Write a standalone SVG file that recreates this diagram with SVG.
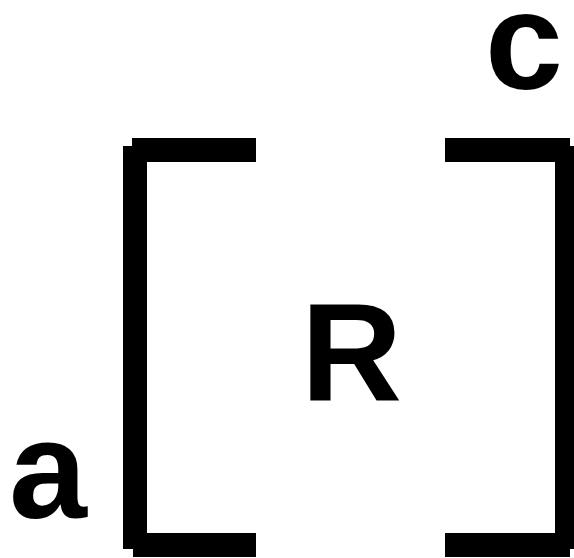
<svg xmlns="http://www.w3.org/2000/svg" width="574" height="558" viewBox="0 0 574 558">
<style>
.lbl{font-family:"Liberation Sans",Arial,sans-serif;font-weight:bold;font-size:140px;fill:#000}
.bar{fill:#000}
</style>
<rect width="574" height="558" fill="#fff"/>
<g id="bracket-left">
<rect class="bar" x="123" y="146" width="24" height="403"/>
<rect class="bar" x="132" y="138" width="124" height="24"/>
<rect class="bar" x="133" y="533" width="123" height="24"/>
</g>
<g id="bracket-right">
<rect class="bar" x="555" y="146" width="24" height="403"/>
<rect class="bar" x="445" y="138" width="125" height="24"/>
<rect class="bar" x="445" y="533" width="125" height="24"/>
</g>
<g id="label-R"><text class="lbl" x="301" y="400">R</text></g>
<g id="label-c"><text class="lbl" x="485" y="89">c</text></g>
<g id="label-a"><text class="lbl" x="9" y="518">a</text></g>
</svg>
